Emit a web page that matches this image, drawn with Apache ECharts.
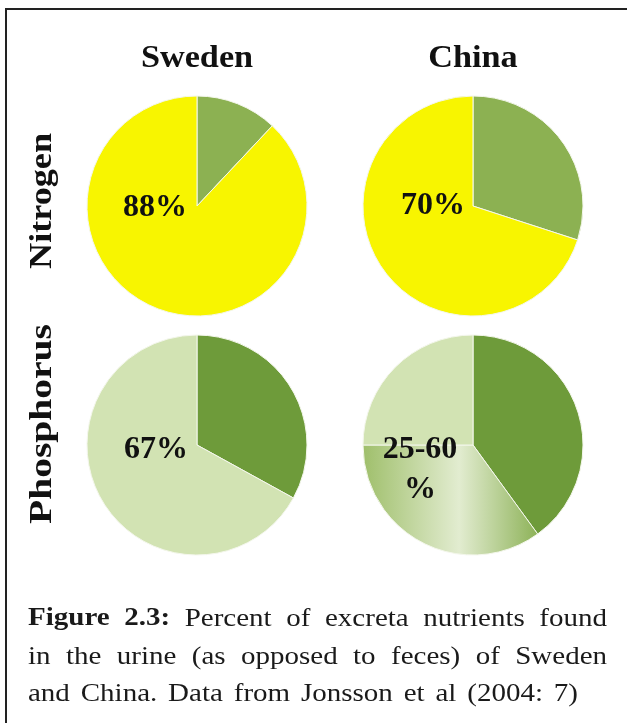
<!DOCTYPE html>
<html>
<head>
<meta charset="utf-8">
<script src="https://cdn.jsdelivr.net/npm/echarts@6/dist/echarts.min.js"></script>
<style>
  html, body { margin: 0; padding: 0; background: #fff; }
  #chart { width: 627px; height: 723px; }
</style>
</head>
<body>
<div id="chart"></div>
<script>
// data (percent of excreta nutrient)
const countries = ['Sweden', 'China'];
const nutrients = ['Nitrogen', 'Phosphorus'];
const nitrogenFeces = [12, 30];
const nitrogenUrine = [88, 70];
const phosphorusFeces = [33, 40];
const phosphorusUncertain = [0, 35];
const phosphorusUrine = [67, 25];
const nitrogenLabels = ['88%', '70%'];
const phosphorusLabels = ['67%', '25-60\n%'];
const captionLines = [
  'Figure 2.3: Percent of excreta nutrients found',
  'in the urine (as opposed to feces) of Sweden',
  'and China. Data from Jonsson et al (2004: 7)'
];

// layout
const colX = [197, 473];
const rowY = [206, 445];
const R = 110;
const labelShift = [[[-42, 2], [-40, 0]], [[-41, 5], [-53, 25]]];

const yellow = '#f8f500';
const nGreen = '#8cb152';
const pDark = '#6e9b3a';
const pLight = '#d2e3b3';
const pMid = new echarts.graphic.LinearGradient(0, 0, 1, 0, [
  { offset: 0, color: '#9fbf6b' },
  { offset: 0.55, color: '#e2ecd0' },
  { offset: 1, color: '#8db258' }
]);

const serif = '"Liberation Serif", "Times New Roman", serif';
const ctx = document.createElement('canvas').getContext('2d');
function textWidth(t, font) { ctx.font = font; return ctx.measureText(t).width; }

function urineLabel(text) {
  return {
    show: true,
    position: 'center',
    formatter: text,
    fontFamily: serif,
    fontWeight: 'bold',
    fontSize: 32,
    lineHeight: 40,
    color: '#111'
  };
}

const series = [];
countries.forEach((c, i) => {
  // nitrogen
  series.push({
    type: 'pie',
    center: [colX[i], rowY[0]],
    radius: R,
    startAngle: 90,
    silent: true,
    avoidLabelOverlap: false,
    label: { show: false },
    labelLine: { show: false },
    labelLayout: { dx: labelShift[0][i][0], dy: labelShift[0][i][1] },
    itemStyle: { borderColor: '#f4f7ec', borderWidth: 1 },
    data: [
      { name: 'feces', value: nitrogenFeces[i], itemStyle: { color: nGreen } },
      { name: 'urine', value: nitrogenUrine[i], itemStyle: { color: yellow },
        label: urineLabel(nitrogenLabels[i]) }
    ]
  });
  // phosphorus
  const pData = [{ name: 'feces', value: phosphorusFeces[i], itemStyle: { color: pDark } }];
  if (phosphorusUncertain[i] > 0) {
    pData.push({ name: 'uncertain', value: phosphorusUncertain[i], itemStyle: { color: pMid } });
  }
  pData.push({ name: 'urine', value: phosphorusUrine[i], itemStyle: { color: pLight },
    label: urineLabel(phosphorusLabels[i]) });
  series.push({
    type: 'pie',
    center: [colX[i], rowY[1]],
    radius: R,
    startAngle: 90,
    silent: true,
    avoidLabelOverlap: false,
    label: { show: false },
    labelLine: { show: false },
    labelLayout: { dx: labelShift[1][i][0], dy: labelShift[1][i][1] },
    itemStyle: { borderColor: '#f4f7ec', borderWidth: 1 },
    data: pData
  });
});

const graphic = [];
// frame
graphic.push({
  type: 'polyline',
  shape: { points: [[6, 723], [6, 9], [627, 9]] },
  style: { stroke: '#222', lineWidth: 2, fill: null }
});
// column titles
const titleFont = 'bold 32px ' + serif;
countries.forEach((c, i) => {
  graphic.push({
    type: 'text', x: colX[i], y: 59, scaleX: 1.07,
    style: { text: c, font: titleFont, fill: '#111', align: 'center', verticalAlign: 'middle' }
  });
});
// row titles, stretched to the original's length
const rowLabelY = [201, 424];
const rowLabelLen = [136, 200];
nutrients.forEach((n, i) => {
  graphic.push({
    type: 'text', x: 43, y: rowLabelY[i], rotation: Math.PI / 2,
    scaleX: rowLabelLen[i] / textWidth(n, titleFont),
    style: { text: n, font: titleFont, fill: '#111', align: 'center', verticalAlign: 'middle' }
  });
});

// caption, justified like the original
const capSize = 25;
const capStretch = 1.16;
const capFont = capSize + 'px ' + serif;
const capBold = 'bold ' + capSize + 'px ' + serif;
const capLeft = 28;
const capRight = [607, 607, 578];
const capY = [619, 657, 694];
captionLines.forEach((line, li) => {
  const words = line.split(' ').map((w, wi) => ({
    text: w,
    font: (li === 0 && wi < 2) ? capBold : capFont
  }));
  let total = 0;
  words.forEach(w => { w.width = textWidth(w.text, w.font) * capStretch; total += w.width; });
  const gap = (capRight[li] - capLeft - total) / (words.length - 1);
  let x = capLeft;
  words.forEach(w => {
    graphic.push({
      type: 'text', x: x, y: capY[li], scaleX: capStretch,
      style: { text: w.text, font: w.font, fill: '#1a1a1a', align: 'left', verticalAlign: 'middle' }
    });
    x += w.width + gap;
  });
});

const chart = echarts.init(document.getElementById('chart'));
chart.setOption({
  backgroundColor: '#fff',
  animation: false,
  series: series,
  graphic: graphic
});
</script>
</body>
</html>
